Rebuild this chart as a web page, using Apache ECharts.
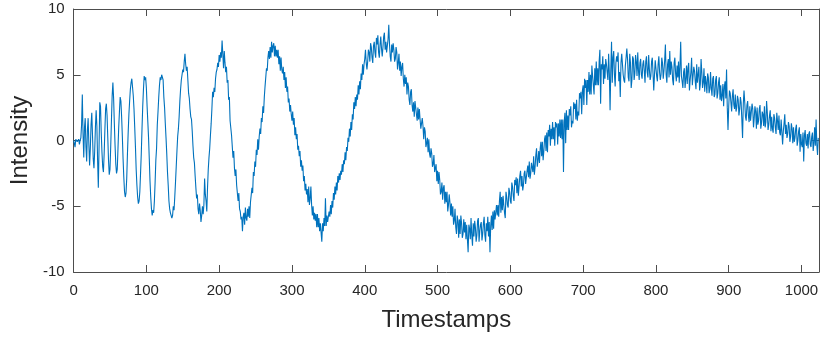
<!DOCTYPE html>
<html>
<head>
<meta charset="utf-8">
<script src="https://cdn.jsdelivr.net/npm/echarts@6/dist/echarts.min.js"></script>
<style>
html,body{margin:0;padding:0;background:#fff;}
#chart{width:822px;height:342px;}
</style>
</head>
<body>
<div id="chart"></div>
<script>
// Intensity, one value per timestamp (0..1023)
const intensity = [
0.0,-0.2,-0.5,0.1,0.2,-0.1,0.0,0.1,-0.3,0.0,
0.2,1.2,3.5,0.5,-1.3,1.0,1.7,-0.5,-1.6,0.8,
1.7,-0.3,-1.9,-0.6,1.2,2.1,0.4,-1.4,-2.1,-0.8,
1.0,2.3,1.1,-1.5,-3.6,-0.5,2.9,2.6,0.6,-0.9,
-2.0,-2.4,-1.0,0.8,2.4,2.8,1.9,0.2,-1.5,-2.6,
-2.2,-0.5,1.5,3.4,4.4,3.2,1.3,-0.4,-1.8,-2.5,
-2.2,-0.6,1.0,2.2,3.3,3.0,1.8,0.3,-1.4,-2.8,
-3.9,-4.3,-4.0,-2.9,-1.0,0.6,2.0,3.0,3.9,4.4,
4.7,4.6,3.4,2.4,1.0,-0.5,-2.2,-3.4,-4.3,-4.8,
-4.6,-3.9,-2.5,-1.0,0.9,2.6,3.9,4.9,4.6,4.8,
4.0,2.6,1.4,0.2,-1.4,-3.1,-4.3,-5.2,-5.7,-5.3,
-5.5,-4.6,-3.2,-1.5,-0.6,1.2,2.2,3.3,4.2,4.8,
4.6,5.0,4.9,4.6,3.3,2.5,1.3,0.2,-1.0,-2.4,
-3.4,-4.6,-5.2,-5.5,-5.4,-5.9,-5.7,-5.0,-5.3,-4.3,
-3.2,-2.0,-0.8,0.3,0.9,1.8,3.0,3.9,4.6,5.0,
5.4,5.2,6.0,6.6,5.8,5.3,5.6,4.6,3.6,3.2,
2.4,1.8,1.6,0.7,-0.4,-1.3,-1.7,-2.7,-3.6,-4.4,
-4.1,-5.2,-5.6,-4.8,-5.3,-6.2,-5.7,-5.0,-5.6,-4.9,
-2.9,-4.1,-4.6,-5.4,-3.6,-2.2,-1.3,-0.6,0.4,1.3,
2.4,3.7,3.3,4.0,3.7,4.7,5.2,5.4,5.9,5.6,
6.5,6.0,6.7,6.3,7.6,6.6,5.5,6.8,5.9,5.2,
5.6,4.4,4.6,3.1,3.3,1.5,1.6,0.4,0.4,-1.3,
-0.8,-2.1,-2.7,-2.2,-3.4,-3.3,-4.6,-4.0,-5.2,-5.4,
-6.0,-5.8,-6.9,-5.8,-5.5,-6.4,-5.1,-5.9,-6.1,-5.2,
-5.8,-5.0,-5.9,-4.7,-4.8,-3.6,-4.0,-2.4,-2.7,-1.6,
-2.0,-0.7,-1.1,0.1,-0.7,0.3,0.9,0.5,1.7,1.4,
2.6,2.1,3.3,4.1,4.0,5.5,5.3,6.3,6.8,6.2,
7.1,6.3,7.5,6.7,7.2,7.4,6.4,7.2,6.4,6.9,
6.3,6.9,5.8,6.4,5.3,6.3,5.4,5.1,5.6,4.6,
5.2,4.0,4.8,3.7,4.1,2.9,3.2,2.2,2.7,2.0,
1.5,2.2,1.2,1.7,0.4,1.0,0.1,0.5,-0.7,-0.4,
-1.2,-0.8,-2.0,-1.5,-2.3,-1.9,-3.1,-2.7,-3.8,-3.3,
-4.1,-3.7,-4.7,-3.5,-4.9,-4.4,-3.5,-4.9,-5.7,-5.0,
-6.0,-5.5,-6.1,-5.6,-6.6,-5.6,-6.6,-5.9,-6.9,-6.3,
-6.4,-7.7,-6.3,-6.9,-5.9,-6.5,-4.4,-6.5,-5.7,-6.2,
-6.2,-5.4,-5.8,-4.9,-5.6,-4.6,-5.1,-4.0,-4.5,-3.5,
-4.1,-3.2,-3.8,-2.7,-3.2,-2.5,-3.0,-2.3,-2.6,-1.8,
-2.4,-1.5,-1.8,-0.9,-1.5,-0.5,-0.8,0.2,-0.1,0.9,
0.3,1.4,0.8,2.0,1.6,2.9,2.4,3.3,2.6,3.5,
3.1,4.2,3.5,4.5,3.9,5.1,4.6,5.8,5.0,5.8,
6.2,6.9,5.9,5.4,6.0,6.9,6.7,6.0,7.4,7.1,
6.3,5.9,7.2,7.5,6.7,6.3,7.8,7.3,8.0,6.7,
6.3,7.3,7.9,7.0,6.4,7.1,7.9,8.2,6.9,7.5,
6.7,7.2,7.7,8.8,7.3,6.4,6.0,7.3,6.7,7.4,
6.9,6.0,6.2,7.1,6.7,5.4,5.9,6.6,5.3,6.0,
4.9,5.6,5.9,4.7,4.1,5.0,4.3,4.8,3.5,4.4,
4.1,3.1,2.7,3.7,3.9,2.7,2.2,2.9,1.8,3.0,
3.0,2.0,1.5,2.5,1.6,2.4,1.6,0.9,0.8,1.7,
1.1,0.1,1.0,0.7,-0.5,-0.2,0.2,-0.9,0.1,-1.0,
-1.3,-0.6,-1.0,-2.0,-1.8,-1.1,-2.4,-2.3,-1.8,-3.1,
-2.3,-3.3,-2.4,-3.0,-4.1,-3.9,-3.2,-4.5,-3.6,-3.4,
-4.8,-3.9,-4.7,-3.9,-5.4,-4.9,-4.1,-4.7,-5.7,-4.8,
-5.8,-5.0,-6.4,-6.1,-5.2,-6.6,-7.1,-5.7,-6.1,-7.4,
-6.0,-7.1,-5.7,-6.3,-7.4,-7.1,-6.0,-7.0,-6.2,-7.5,
-6.4,-7.5,-8.5,-6.4,-6.7,-7.5,-5.9,-7.2,-8.0,-6.3,
-7.3,-6.1,-6.6,-7.7,-7.2,-6.1,-5.9,-7.7,-6.9,-6.4,
-6.2,-7.6,-7.1,-6.3,-5.8,-7.2,-7.7,-6.3,-6.9,-5.8,
-7.3,-6.2,-8.5,-6.5,-5.7,-6.8,-5.4,-6.7,-5.3,-6.0,
-6.1,-4.9,-5.7,-4.9,-5.8,-4.6,-3.9,-5.5,-4.3,-5.3,
-4.2,-4.9,-5.5,-5.9,-3.9,-4.3,-4.9,-5.1,-3.6,-3.9,
-4.6,-4.8,-3.2,-3.5,-4.2,-4.6,-3.0,-3.4,-2.8,-4.0,
-2.9,-4.2,-3.5,-2.7,-2.3,-3.5,-2.7,-3.8,-3.4,-2.5,
-2.3,-3.3,-3.4,-2.3,-1.9,-2.8,-1.6,-2.9,-2.5,-1.7,
-1.6,-2.4,-1.2,-2.6,-2.0,-1.1,-0.6,-2.0,-1.5,-0.8,
-1.7,-0.6,-0.1,-1.2,-0.1,-1.5,-0.8,0.1,0.4,-0.8,
0.6,-0.9,0.8,0.3,1.2,-0.4,0.9,0.1,1.4,0.1,
1.0,-0.4,1.4,1.0,1.3,-0.3,1.3,0.3,1.6,0.2,
1.6,0.1,1.6,-2.4,1.4,2.1,-0.2,2.3,0.8,1.9,
0.8,2.4,1.9,2.6,1.0,1.5,1.3,2.9,2.4,2.8,
1.6,3.1,1.5,2.2,1.9,3.6,3.2,3.7,2.0,3.8,
4.2,2.7,4.7,4.0,4.6,2.7,4.6,3.7,5.2,3.5,
5.0,3.5,5.7,4.9,5.0,3.5,5.5,4.2,6.0,4.2,
5.5,4.2,6.0,6.9,2.8,5.8,5.4,6.4,4.3,5.8,
4.7,6.2,5.8,5.9,4.6,6.6,5.1,2.3,5.4,7.5,
4.4,6.3,6.8,5.0,4.1,5.9,6.4,6.0,6.7,4.5,
5.2,3.3,5.9,6.6,6.5,5.0,4.6,4.4,5.7,6.3,
7.0,6.2,4.8,4.5,6.6,5.9,4.0,4.6,6.4,6.2,
4.6,5.1,6.5,6.0,4.9,6.7,5.3,4.6,5.9,6.2,
5.0,4.7,5.8,6.1,5.3,4.4,6.0,6.4,5.2,4.8,
6.5,5.4,4.6,4.9,6.0,6.3,5.1,3.8,5.0,6.1,
6.2,4.9,4.5,5.8,6.4,5.2,4.6,5.0,6.3,5.9,
4.7,5.3,6.1,7.3,5.0,4.4,5.8,6.2,4.8,6.8,
5.0,6.0,5.6,4.6,4.2,5.9,6.3,5.1,4.5,5.7,
4.8,6.0,4.4,5.6,7.5,4.9,4.5,4.0,5.2,5.5,
4.0,4.7,5.7,4.3,5.5,5.9,3.8,4.6,5.2,6.3,
4.2,4.1,5.6,5.3,4.5,3.9,5.8,4.4,5.0,5.6,
3.8,4.3,6.2,5.2,4.0,4.4,5.5,3.7,4.9,4.4,
3.6,5.1,4.8,3.6,3.9,5.2,4.0,3.4,4.7,4.9,
3.3,3.5,4.6,4.9,3.2,3.6,4.4,4.8,3.1,4.2,
3.0,3.4,4.3,2.6,4.1,4.5,3.2,5.4,2.5,0.8,
2.6,3.8,3.6,2.9,2.2,3.4,3.9,2.7,2.4,3.5,
2.2,2.5,3.4,3.1,1.9,2.4,3.3,2.9,1.6,0.2,
2.8,3.8,2.9,1.8,1.5,2.7,3.0,1.9,1.4,2.6,
1.5,1.4,2.8,2.4,1.0,1.7,2.6,2.2,0.9,2.5,
1.2,1.5,2.4,2.7,0.9,1.3,2.2,2.0,1.1,2.6,
1.0,1.4,3.0,2.1,0.8,1.2,1.9,2.3,0.7,1.8,
0.9,0.6,2.0,1.7,1.0,0.5,2.1,1.5,0.8,1.9,
0.6,0.4,1.6,1.5,-0.3,0.7,1.3,2.0,0.5,1.2,
0.2,0.5,1.4,1.1,-0.1,0.3,1.3,0.9,-0.2,1.0,
-0.1,0.2,0.9,1.2,-0.4,0.0,0.7,1.0,-0.85,0.5,
-0.3,-0.5,0.6,-1.6,0.4,0.8,-0.2,-0.4,0.5,-0.6,
0.5,0.7,-0.3,-0.5,0.3,0.6,-0.8,-0.2,1.0,-0.4,
1.6,-0.3,-1.1,0.2
];

const xTickLabels = [0,100,200,300,400,500,600,700,800,900,1000];
const yTickLabels = [-10,-5,0,5,10];
const xTitle = 'Timestamps';
const yTitle = 'Intensity';

const seriesData = intensity.map((v, i) => [i, v]);

const FONT = '"Liberation Sans", Arial, Helvetica, sans-serif';
const TXT = '#262626';
const AX = '#4d4d4d';

const chart = echarts.init(document.getElementById('chart'), null, {renderer: 'canvas'});

const xCommon = {
  type: 'value', min: 0, max: 1024, interval: 100,
  splitLine: {show: false},
  axisLine: {show: true, onZero: false, lineStyle: {color: AX, width: 1}},
  axisTick: {show: true, inside: true, length: 7, lineStyle: {color: AX}}
};
const yCommon = {
  type: 'value', min: -10, max: 10, interval: 5,
  splitLine: {show: false},
  axisLine: {show: true, onZero: false, lineStyle: {color: AX, width: 1}},
  axisTick: {show: true, inside: true, length: 7, lineStyle: {color: AX}}
};

chart.setOption({
  animation: false,
  backgroundColor: '#ffffff',
  grid: {left: 72, right: 3, top: 9, bottom: 70, containLabel: false},
  xAxis: [
    Object.assign({}, xCommon, {
      position: 'bottom',
      name: xTitle, nameLocation: 'middle', nameGap: 36,
      nameTextStyle: {fontFamily: FONT, fontSize: 24, color: TXT},
      axisLabel: {
        show: true, margin: 11, fontFamily: FONT, fontSize: 15, color: TXT,
        formatter: v => (xTickLabels.indexOf(v) >= 0 ? String(v) : '')
      }
    }),
    Object.assign({}, xCommon, {position: 'top', axisLabel: {show: false}})
  ],
  yAxis: [
    Object.assign({}, yCommon, {
      position: 'left',
      name: yTitle, nameLocation: 'middle', nameGap: 39, nameRotate: 90,
      nameTextStyle: {fontFamily: FONT, fontSize: 24, color: TXT},
      axisLabel: {
        show: true, margin: 9, fontFamily: FONT, fontSize: 15, color: TXT,
        formatter: v => (yTickLabels.indexOf(v) >= 0 ? String(v) : '')
      }
    }),
    Object.assign({}, yCommon, {position: 'right', axisLabel: {show: false}})
  ],
  series: [{
    type: 'line',
    xAxisIndex: 0, yAxisIndex: 0,
    data: seriesData,
    showSymbol: false,
    symbol: 'none',
    lineStyle: {color: '#0072BD', width: 1.1},
    silent: true
  }]
});
</script>
</body>
</html>
